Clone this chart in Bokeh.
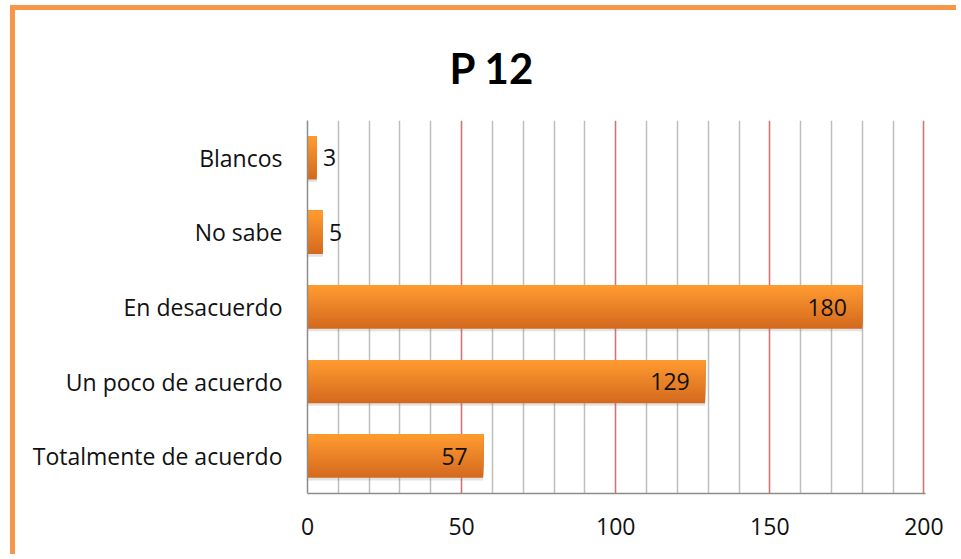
from bokeh.plotting import figure
from bokeh.models import (FactorRange, Range1d, FixedTicker, Grid,
                          ColumnDataSource, LabelSet, Title)
from bokeh.core.properties import value
from bokeh.transform import dodge
from bokeh.embed import file_html
from bokeh.resources import INLINE

# Survey answers for question 12 (bottom to top)
categories = ["Totalmente de acuerdo", "Un poco de acuerdo", "En desacuerdo", "No sabe", "Blancos"]
counts = [57, 129, 180, 5, 3]
x_ticks = [0, 50, 100, 150, 200]

FONT = "Open Sans"
BAR_H = 0.58

# The figure sits inside an orange frame drawn with CSS borders (top and left)
OFF_X, OFF_Y = 15, 10

p = figure(width=961 - OFF_X, height=559 - OFF_Y, output_backend="svg", toolbar_location=None,
           y_range=FactorRange(factors=categories, range_padding=0),
           x_range=Range1d(0, 200.5),
           min_border_left=307 - OFF_X, min_border_right=36,
           min_border_top=120 - OFF_Y, min_border_bottom=66)
p.title = None
p.outline_line_color = None
p.background_fill_color = "white"
p.border_fill_color = "white"
p.margin = (5, 0, 0, 10)
p.styles = {"border-top": "5px solid #F79646", "border-left": "5px solid #F79646"}

# Vertical grid: light lines every 10, red lines every 50
p.xgrid.ticker = FixedTicker(ticks=[t for t in range(0, 201, 10) if t % 50])
p.xgrid.grid_line_color = "#BEBEBE"
p.xgrid.grid_line_width = 1.5
p.ygrid.grid_line_color = None
major = Grid(dimension=0, ticker=FixedTicker(ticks=x_ticks[1:]),
             grid_line_color="#D27474", grid_line_width=1.6)
p.add_layout(major)

# Axes
p.xaxis.ticker = FixedTicker(ticks=x_ticks)
for ax in (p.xaxis[0], p.yaxis[0]):
    ax.axis_line_color = "#8C8C8C"
    ax.axis_line_width = 1.5
    ax.major_tick_line_color = None
    ax.minor_tick_line_color = None
    ax.major_label_text_font = FONT
    ax.major_label_text_font_size = "23px"
    ax.major_label_text_color = "#111111"
p.xaxis.major_label_standoff = 18
p.yaxis.major_label_standoff = 19

src = ColumnDataSource(dict(cat=categories, val=counts))

# Soft drop shadow under each bar
p.hbar(y=dodge("cat", -0.035, range=p.y_range), right="val", left=0, height=BAR_H,
       source=src, fill_color="#7F7F7F", fill_alpha=0.22, line_color=None)

# Bars with a vertical light-to-dark orange gradient: nested strips anchored at the
# bar's top edge, drawn from the full (darkest) bar down to the thinnest (lightest)
top_rgb = (255, 154, 48)
bot_rgb = (212, 106, 30)
n = 24
for k in range(n):
    h = BAR_H * (n - k) / n
    t = (n - k - 1) / (n - 1)
    rgb = tuple(int(round(a + (b - a) * t)) for a, b in zip(top_rgb, bot_rgb))
    col = "#%02x%02x%02x" % rgb
    p.hbar(y=dodge("cat", BAR_H / 2 - h / 2, range=p.y_range), right="val", left=0,
           height=h, source=src, fill_color=col, line_color=None)

# Value labels: inside the bar end for long bars, just outside for short ones
big = ColumnDataSource(dict(cat=categories[:3], x=[v - 5 for v in counts[:3]],
                            label=[str(v) for v in counts[:3]]))
small = ColumnDataSource(dict(cat=categories[3:], x=[v + 2 for v in counts[3:]],
                              label=[str(v) for v in counts[3:]]))
for s, align in ((big, "right"), (small, "left")):
    p.add_layout(LabelSet(x="x", y="cat", text="label", source=s, text_align=align,
                          text_baseline="middle", text_font=value(FONT),
                          text_font_size=value("23px"), text_color=value("#111111")))

# Chart title
p.add_layout(Title(text="P 12", align="left", offset=142, text_font="Lato",
                   text_font_size="42px", text_font_style="bold", text_color="#000000",
                   standoff=55), "above")

open("out.html", "w").write(file_html(p, INLINE))
